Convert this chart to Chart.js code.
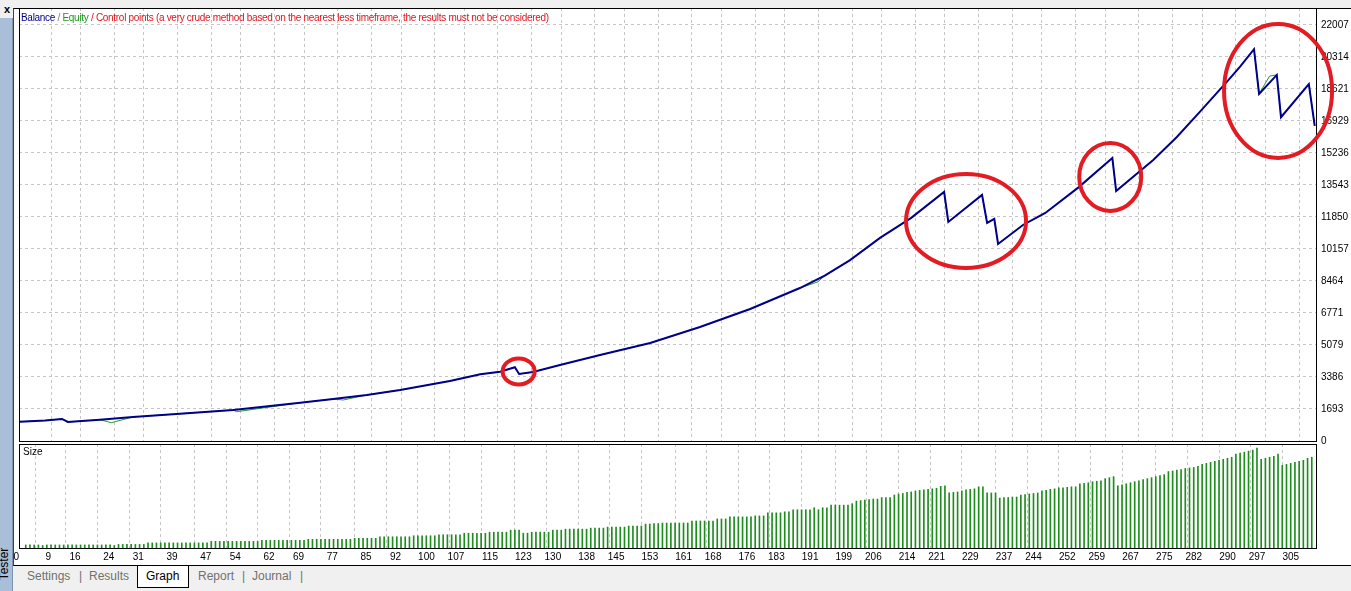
<!DOCTYPE html>
<html>
<head>
<meta charset="utf-8">
<script src="https://cdn.jsdelivr.net/npm/chart.js@4.4.0/dist/chart.umd.min.js"></script>
<style>
  body { margin: 0; width: 1351px; height: 591px; background: #f0f0f0; position: relative; overflow: hidden;
         font-family: "Liberation Sans", Arial, sans-serif; }
  #side { position: absolute; left: 0; top: 18px; width: 12px; height: 573px; background: #a9bfd9; border-right: 1px solid #7d93b0; }
  #side span { position: absolute; left: -12px; bottom: 20px; transform: rotate(-90deg); font-size: 12px; color: #000; }
  #close { position: absolute; left: 4px; top: 3px; font-size: 11px; font-weight: bold; color: #000; }
  #frame { position: absolute; left: 13px; top: 8px; width: 1338px; height: 558px; background: #fff;
           border-left: 1px solid #444; border-top: 1px solid #000; border-bottom: 1px solid #000; box-sizing: border-box; }
  canvas { position: absolute; left: 0; }
  #main { top: 0; }
  #size { top: 440px; }
  #legend { position: absolute; left: 21px; top: 12px; font-size: 10px; letter-spacing: -0.3px; white-space: nowrap; }
  #sizeLabel { position: absolute; left: 23px; top: 446px; font-size: 10px; color: #000; }
  .tab { position: absolute; top: 569px; font-size: 12px; color: #707070; }
  #graphTab { position: absolute; left: 137px; top: 566px; width: 50px; height: 21px; background: #fff;
              border: 1px solid #000; border-top: none; }
</style>
</head>
<body>
<div id="side"><span>Tester</span></div>
<div id="close">x</div>
<div id="frame"></div>
<canvas id="main" width="1351" height="452"></canvas>
<canvas id="size" width="1351" height="126"></canvas>
<div id="legend"><span style="color:#00008b">Balance</span><span style="color:#808080"> / </span><span style="color:#1a9a1a">Equity</span><span style="color:#e0141c"> / Control points (a very crude method based on the nearest less timeframe, the results must not be considered)</span></div>
<div id="sizeLabel">Size</div>
<div id="graphTab"></div>
<span class="tab" style="left:27px">Settings</span>
<span class="tab" style="left:79px">|</span>
<span class="tab" style="left:89px">Results</span>
<span class="tab" style="left:146px;color:#000">Graph</span>
<span class="tab" style="left:198px">Report</span>
<span class="tab" style="left:242px">|</span>
<span class="tab" style="left:252px">Journal</span>
<span class="tab" style="left:300px">|</span>
<script>
// trade-number axis labels and balance axis labels, as printed by the tester
const xTickLabels = [0, 9, 16, 24, 31, 39, 47, 54, 62, 69, 77, 85, 92, 100, 107, 115, 123, 130, 138, 145,
  153, 161, 168, 176, 183, 191, 199, 206, 214, 221, 229, 237, 244, 252, 259, 267, 275, 282, 290, 297, 305];
const yTickLabels = [0, 1693, 3386, 5079, 6771, 8464, 10157, 11850, 13543, 15236, 16929, 18621, 20314, 22007];
const xMin = 1.4, xMax = 309, yMax = 22900;

// balance curve (trade, balance)
const balanceTrades = [1.6, 7.6, 11.6, 13.0, 15.4, 20.6, 28.4, 39.6, 52.2, 68.1, 75.9, 83.9, 91.8, 103.6, 110.8,
  115.5, 119.0, 120.0, 123.3, 129.7, 139.2, 151.1, 162.9, 174.8, 186.6, 192.5, 198.5, 205.6, 213.0, 220.8, 221.8, 229.8,
  231.0, 232.7, 233.6, 239.5, 244.8, 252.6, 260.7, 261.6, 270.4, 276.0, 281.5, 287.9, 291.0, 294.3, 295.5, 299.7, 300.7,
  307.3, 308.7];
const balanceValues = [1020, 1085, 1165, 1005, 1040, 1125, 1270, 1445, 1640, 2025, 2220, 2435, 2700, 3175, 3530,
  3665, 3900, 3545, 3650, 4020, 4550, 5185, 6030, 6980, 8090, 8750, 9570, 10740, 11800, 13170, 11585, 13015,
  11530, 11745, 10420, 11425, 12060, 13400, 14970, 13225, 14865, 16080, 17420, 19005, 19800, 20720, 18355, 19360, 17125,
  18870, 16665];

// equity only shows where it leaves the balance curve
const equityDipTrades = [23.3, 53.0, 78.3, 190.9, 298.0];
const equityDipValues = [968, 1550, 2169, 8420, 19300];

// position size per trade, starting at trade 3
const sizeFirstTrade = 3;
const sizeLots = [
  0.06, 0.06, 0.06, 0.06, 0.05, 0.06, 0.06, 0.06, 0.06, 0.06, 0.06, 0.06, 0.06, 0.06, 0.06, 0.06, 0.06, 0.06, 0.06, 0.06, 0.06,
  0.05, 0.07, 0.07, 0.07, 0.07, 0.07, 0.07, 0.07,
  0.10, 0.10, 0.10, 0.10, 0.10, 0.10, 0.10, 0.10, 0.10, 0.10, 0.10, 0.10, 0.10, 0.10, 0.10,
  0.13, 0.13, 0.13, 0.13, 0.13, 0.13, 0.13, 0.13, 0.13, 0.13, 0.13, 0.13,
  0.15, 0.15, 0.15, 0.15, 0.15, 0.15, 0.15, 0.15, 0.15, 0.15, 0.15,
  0.17, 0.17, 0.17, 0.17, 0.17, 0.17, 0.17, 0.17, 0.17, 0.17, 0.17,
  0.19, 0.19, 0.19, 0.19, 0.19, 0.19,
  0.22, 0.22, 0.22, 0.22, 0.22, 0.22, 0.22, 0.22,
  0.24, 0.24, 0.24, 0.24, 0.24, 0.24,
  0.26, 0.26, 0.26, 0.26, 0.26, 0.26,
  0.29, 0.29, 0.29, 0.29, 0.29, 0.29,
  0.31, 0.31, 0.31, 0.31, 0.31,
  0.35, 0.35, 0.35, 0.29, 0.29,
  0.31, 0.31, 0.31, 0.31, 0.31,
  0.35, 0.35, 0.35,
  0.37, 0.37, 0.37, 0.37, 0.37, 0.37,
  0.39, 0.39, 0.39, 0.39,
  0.41, 0.41, 0.41, 0.41, 0.41,
  0.43, 0.43, 0.43, 0.43,
  0.47, 0.47, 0.48, 0.48,
  0.49, 0.49, 0.49, 0.49, 0.49, 0.49, 0.49,
  0.53, 0.53, 0.53, 0.53, 0.53, 0.53,
  0.57, 0.57, 0.57,
  0.61, 0.61, 0.61, 0.61, 0.61, 0.61,
  0.63, 0.63, 0.63,
  0.69, 0.69, 0.69, 0.69, 0.71, 0.71,
  0.75, 0.75, 0.75, 0.75, 0.75, 0.79, 0.75, 0.79, 0.79,
  0.84, 0.84, 0.84, 0.84, 0.84, 0.87,
  0.92, 0.93, 0.94, 0.95, 0.96, 0.96, 0.99, 0.99, 0.99,
  1.04, 1.06, 1.07, 1.09, 1.10,
  1.12, 1.13, 1.14, 1.15, 1.16, 1.17, 1.21, 1.22,
  1.08, 1.09, 1.10, 1.12, 1.14, 1.15, 1.16, 1.20, 1.20,
  1.08, 1.08, 1.08,
  0.98, 0.99, 0.99, 1.00, 1.00,
  1.04, 1.05, 1.06, 1.07, 1.08,
  1.12, 1.13, 1.15, 1.16,
  1.18, 1.18, 1.19, 1.20, 1.20,
  1.26, 1.27, 1.28, 1.30, 1.31, 1.32,
  1.36, 1.38, 1.40,
  1.22, 1.24, 1.26, 1.28, 1.30,
  1.32, 1.34, 1.36, 1.38, 1.40, 1.42, 1.44,
  1.50, 1.51, 1.53, 1.54, 1.56, 1.57, 1.58, 1.60,
  1.64, 1.66, 1.68, 1.70, 1.72, 1.74, 1.76, 1.78,
  1.84, 1.86, 1.88, 1.90, 1.92, 1.96,
  1.74, 1.76, 1.78, 1.80, 1.84,
  1.62, 1.64, 1.66, 1.68,
  1.70, 1.72, 1.76, 1.78
];
const sizeMax = 2.04;

// red hand-drawn rings around the drawdowns (trade, balance) + radii in px
const ringTrades = [119.9, 226.0, 260.2, 300.0];
const ringBalances = [3677, 11638, 13966, 18515];
const ringRadii = [[16, 13], [60, 47], [31, 34], [54, 67]];

const FONT = '"Liberation Sans", Arial, sans-serif';

const balancePts = balanceTrades.map((t, i) => ({ x: t, y: balanceValues[i] }));
const equityPts = balancePts.concat(equityDipTrades.map((t, i) => ({ x: t, y: equityDipValues[i] })))
  .sort((a, b) => a.x - b.x);
const sizePts = sizeLots.map((v, i) => ({ x: sizeFirstTrade + i, y: v }));

function setXTicks(scale) {
  scale.ticks = xTickLabels.map(v => ({ value: Math.max(v, xMin) }));
}

const frame = {
  id: 'frame',
  afterDraw(chart) {
    const a = chart.chartArea, ctx = chart.ctx;
    ctx.save();
    ctx.strokeStyle = '#000';
    ctx.lineWidth = 1;
    ctx.strokeRect(a.left + 0.5, a.top + 0.5, a.right - a.left, a.bottom - a.top);
    ctx.restore();
  }
};

const rings = {
  id: 'rings',
  afterDraw(chart) {
    const ctx = chart.ctx, sx = chart.scales.x, sy = chart.scales.y;
    ctx.save();
    ctx.strokeStyle = '#e31b23';
    ctx.lineWidth = 4;
    ringTrades.forEach((t, i) => {
      ctx.beginPath();
      ctx.ellipse(sx.getPixelForValue(t), sy.getPixelForValue(ringBalances[i]), ringRadii[i][0], ringRadii[i][1], 0, 0, Math.PI * 2);
      ctx.stroke();
    });
    ctx.restore();
  }
};

const gridX = { color: '#c6c6c6', lineWidth: 1, drawTicks: false };

new Chart(document.getElementById('main'), {
  type: 'line',
  data: {
    datasets: [
      { label: 'Balance', data: balancePts, borderColor: '#00008b', borderWidth: 2, pointRadius: 0, tension: 0 },
      { label: 'Equity', data: equityPts, borderColor: '#22a022', borderWidth: 1, pointRadius: 0, tension: 0 }
    ]
  },
  options: {
    responsive: false,
    animation: false,
    events: [],
    layout: { padding: { left: 19, top: 8, bottom: 11, right: 0 } },
    plugins: { legend: { display: false }, tooltip: { enabled: false } },
    scales: {
      x: {
        type: 'linear', min: xMin, max: xMax,
        afterBuildTicks: setXTicks,
        ticks: { display: false },
        grid: gridX,
        border: { display: false, dash: [3, 3] },
        afterFit(s) { s.height = 0; s.paddingLeft = 0; s.paddingRight = 0; }
      },
      y: {
        position: 'right', min: 0, max: yMax,
        afterBuildTicks(s) { s.ticks = yTickLabels.map(v => ({ value: v })); },
        ticks: { color: '#000', padding: 5, font: { family: FONT, size: 10 }, callback: v => String(v) },
        grid: { color: '#c6c6c6', lineWidth: 1, drawTicks: false },
        border: { display: false, dash: [3, 3] },
        afterFit(s) { s.width = 35; s.paddingTop = 0; s.paddingBottom = 0; }
      }
    }
  },
  plugins: [frame, rings]
});

new Chart(document.getElementById('size'), {
  type: 'bar',
  data: {
    datasets: [
      { label: 'Size', data: sizePts, backgroundColor: '#1d8d1d', borderWidth: 0, barThickness: 1 }
    ]
  },
  options: {
    responsive: false,
    animation: false,
    events: [],
    layout: { padding: { left: 19, top: 4, bottom: 0, right: 0 } },
    plugins: { legend: { display: false }, tooltip: { enabled: false } },
    scales: {
      x: {
        type: 'linear', min: xMin, max: xMax, offset: false,
        afterBuildTicks: setXTicks,
        ticks: {
          color: '#000', padding: 3, align: 'end', maxRotation: 0, autoSkip: false,
          font: { family: FONT, size: 10 },
          callback: (v, i) => String(xTickLabels[i])
        },
        grid: gridX,
        border: { display: false, dash: [3, 3] },
        afterFit(s) { s.height = 18; s.paddingLeft = 0; s.paddingRight = 0; }
      },
      y: {
        position: 'right', min: 0, max: sizeMax,
        ticks: { display: false },
        grid: { display: false },
        border: { display: false },
        afterFit(s) { s.width = 35; s.paddingTop = 0; s.paddingBottom = 0; }
      }
    }
  },
  plugins: [frame]
});
</script>
</body>
</html>
